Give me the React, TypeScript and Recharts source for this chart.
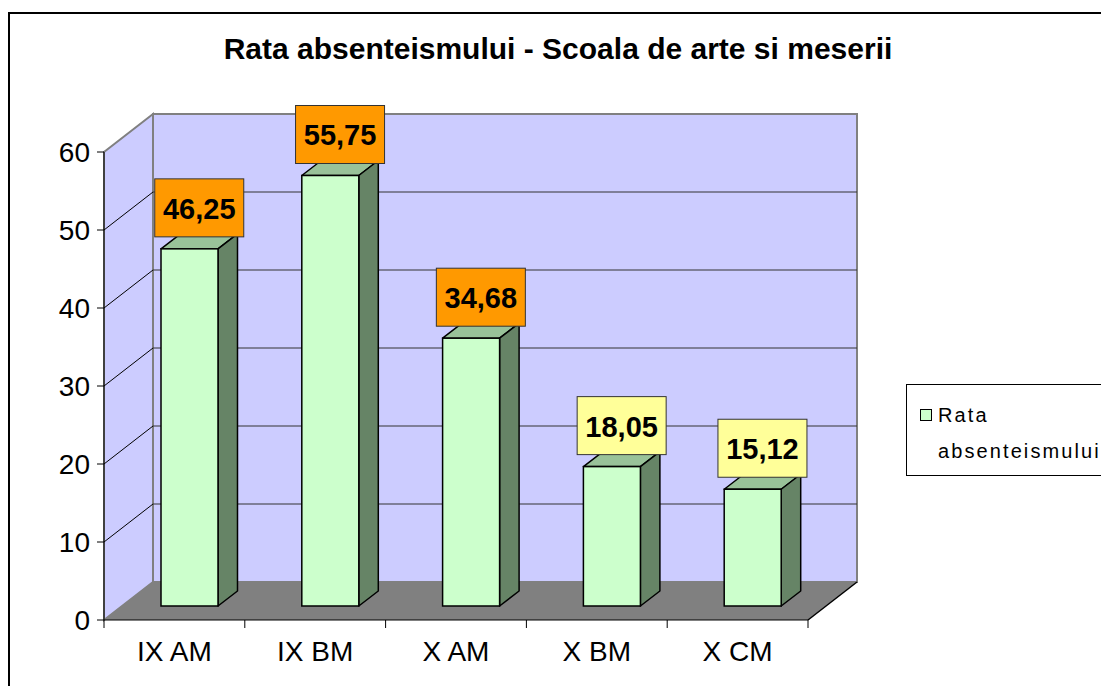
import { Bar, BarChart, Customized, Legend, XAxis, YAxis } from 'recharts';

const categories = ['IX AM', 'IX BM', 'X AM', 'X BM', 'X CM'];
const rates = [46.25, 55.75, 34.68, 18.05, 15.12];
const labelFills = ['#FF9900', '#FF9900', '#FF9900', '#FFFF99', '#FFFF99'];
const yTicks = [0, 10, 20, 30, 40, 50, 60];
const seriesName = 'Rata absenteismului';
const title = 'Rata absenteismului - Scoala de arte si meserii';

const data = categories.map((name, i) => ({ name, rate: rates[i] }));

const FONT = '"Liberation Sans", Arial, sans-serif';
const CHART_W = 1200;
const CHART_H = 720;
const Y_AXIS_W = 104;
const X_AXIS_H = 60;
const MARGIN = { top: 152, right: 392, bottom: 40, left: 0 };
// plot area (front plane) derived from the margins above
const PLOT = {
  left: MARGIN.left + Y_AXIS_W,
  top: MARGIN.top,
  right: CHART_W - MARGIN.right,
  bottom: CHART_H - MARGIN.bottom - X_AXIS_H,
};
const DEPTH = { x: 49, y: -38 }; // floor depth
const BAR_SHIFT = { x: 15, y: -14 }; // bar front face sits a bit inside the floor
const BAR_DEPTH = { x: 19.5, y: -15 };

const yMax = yTicks[yTicks.length - 1];
const yPix = (v: number) => PLOT.bottom - (v / yMax) * (PLOT.bottom - PLOT.top);

function Walls() {
  const bx = PLOT.left + DEPTH.x;
  const brx = PLOT.right + DEPTH.x;
  const btop = PLOT.top + DEPTH.y;
  const bbot = PLOT.bottom + DEPTH.y;
  const band = (PLOT.right - PLOT.left) / categories.length;
  return (
    <g>
      <text x={558} y={59} textAnchor="middle" fontFamily={FONT} fontWeight="bold" fontSize={30} fill="#000">
        {title}
      </text>
      <polygon
        points={`${PLOT.left},${PLOT.top} ${bx},${btop} ${bx},${bbot} ${PLOT.left},${PLOT.bottom}`}
        fill="#CCCCFF"
        stroke="#808080"
        strokeWidth={2}
      />
      <rect x={bx} y={btop} width={brx - bx} height={bbot - btop} fill="#CCCCFF" stroke="#808080" strokeWidth={2} />
      <polygon
        points={`${PLOT.left},${PLOT.bottom} ${PLOT.right},${PLOT.bottom} ${brx},${bbot} ${bx},${bbot}`}
        fill="#808080"
      />
      <line x1={PLOT.right} y1={PLOT.bottom} x2={brx} y2={bbot} stroke="#000" strokeWidth={1.5} />
      {yTicks.slice(1, -1).map((v) => {
        const y = yPix(v);
        return (
          <g key={v}>
            <line x1={PLOT.left} y1={y} x2={bx} y2={y + DEPTH.y} stroke="#000" strokeWidth={1} />
            <line x1={bx} y1={y + DEPTH.y} x2={brx} y2={y + DEPTH.y} stroke="#333" strokeWidth={1} />
          </g>
        );
      })}
      {Array.from({ length: categories.length + 1 }, (_, i) => (
        <line
          key={i}
          x1={PLOT.left + i * band}
          y1={PLOT.bottom}
          x2={PLOT.left + i * band}
          y2={PLOT.bottom + 8}
          stroke="#000"
          strokeWidth={1}
        />
      ))}
    </g>
  );
}

function Bar3D(props: any) {
  const { x, y, width, height, index } = props;
  const h = height * 0.99;
  const base = y + height + BAR_SHIFT.y;
  const fx = x + BAR_SHIFT.x;
  const top = base - h;
  const r = fx + width;
  const dx = BAR_DEPTH.x;
  const dy = BAR_DEPTH.y;
  const value = rates[index];
  const boxW = 89;
  const boxH = 58;
  const cx = fx + (width + dx) / 2;
  const boxBottom = top - 12;
  return (
    <g>
      <polygon
        points={`${fx},${top} ${fx + dx},${top + dy} ${r + dx},${top + dy} ${r},${top}`}
        fill="#99C299"
        stroke="#000"
        strokeWidth={1.5}
        strokeLinejoin="round"
      />
      <polygon
        points={`${r},${top} ${r + dx},${top + dy} ${r + dx},${base + dy} ${r},${base}`}
        fill="#668466"
        stroke="#000"
        strokeWidth={1.5}
        strokeLinejoin="round"
      />
      <rect x={fx} y={top} width={width} height={h} fill="#CCFFCC" stroke="#000" strokeWidth={1.5} />
      <rect
        x={cx - boxW / 2}
        y={boxBottom - boxH}
        width={boxW}
        height={boxH}
        fill={labelFills[index]}
        stroke="#333"
        strokeWidth={1}
      />
      <text
        x={cx}
        y={boxBottom - boxH / 2 + 11}
        textAnchor="middle"
        fontFamily={FONT}
        fontWeight="bold"
        fontSize={29}
        fill="#000"
      >
        {value.toFixed(2).replace('.', ',')}
      </text>
    </g>
  );
}

function LegendBox(props: any) {
  const item = (props.payload && props.payload[0]) || { value: seriesName };
  const words = String(item.value).split(' ');
  return (
    <div
      style={{
        position: 'relative',
        width: 260,
        height: 90,
        border: '1px solid #000',
        background: '#fff',
        fontFamily: FONT,
        fontSize: 20,
        color: '#000',
      }}
    >
      <div
        style={{
          position: 'absolute',
          left: 13,
          top: 24,
          width: 10,
          height: 10,
          border: '1px solid #000',
          background: '#CCFFCC',
        }}
      />
      <div style={{ position: 'absolute', left: 31, top: 12, lineHeight: '36px', letterSpacing: 2.1, whiteSpace: 'nowrap' }}>
        {words[0]}
        <br />
        {words.slice(1).join(' ')}
      </div>
    </div>
  );
}

export default function App() {
  return (
    <div style={{ position: 'fixed', left: 0, top: 0, width: 1101, height: 686, overflow: 'hidden', background: '#fff' }}>
      <div
        style={{
          position: 'absolute',
          left: 8,
          top: 12,
          width: 1300,
          height: 900,
          border: '2px solid #000',
        }}
      />
      <div style={{ position: 'absolute', left: 0, top: 0 }}>
        <BarChart width={CHART_W} height={CHART_H} data={data} margin={MARGIN} barSize={57}>
          <Customized component={<Walls />} />
          <XAxis
            dataKey="name"
            height={X_AXIS_H}
            tickLine={false}
            tickSize={8}
            tickMargin={13}
            axisLine={{ stroke: '#000', strokeWidth: 1 }}
            tick={{ fontSize: 28, fill: '#000', fontFamily: FONT }}
            interval={0}
          />
          <YAxis
            width={Y_AXIS_W}
            domain={[0, yMax]}
            ticks={yTicks}
            interval={0}
            tickSize={7}
            tickMargin={7}
            axisLine={{ stroke: '#000', strokeWidth: 1 }}
            tickLine={{ stroke: '#000', strokeWidth: 1 }}
            tick={{ fontSize: 28, fill: '#000', fontFamily: FONT }}
          />
          <Legend
            layout="horizontal"
            align="center"
            verticalAlign="middle"
            wrapperStyle={{ left: 906, top: 384, width: 262, height: 92 }}
            content={<LegendBox />}
          />
          <Bar dataKey="rate" name={seriesName} fill="#CCFFCC" shape={<Bar3D />} isAnimationActive={false} />
        </BarChart>
      </div>
    </div>
  );
}
